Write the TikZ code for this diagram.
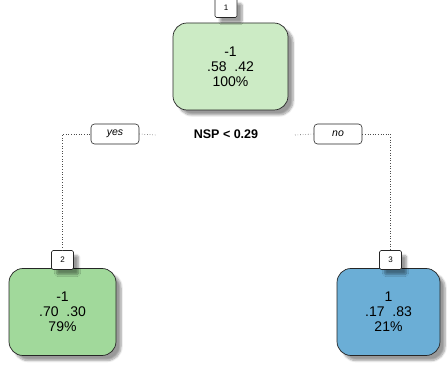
\documentclass[tikz,border=0pt]{standalone}
\usepackage{fontspec}
\setmainfont{Liberation Sans}
\usetikzlibrary{shadows.blur}
\definecolor{rootc}{RGB}{204,235,197}
\definecolor{leftc}{RGB}{161,217,155}
\definecolor{rightc}{RGB}{107,174,214}
\tikzset{
  shad/.style={blur shadow={shadow xshift=5pt, shadow yshift=-5pt, shadow blur steps=8, shadow opacity=40}},
  treenode/.style={draw=black!85, line width=0.7pt, rounded corners=14pt, inner sep=0pt,
    minimum width=112pt, minimum height=87pt, align=center, shad,
    font=\fontsize{14}{15}\selectfont},
  numlab/.style={draw=black!85, line width=0.6pt, fill=white, rounded corners=1.5pt, inner sep=0pt,
    minimum width=22pt, minimum height=19pt, shad, font=\fontsize{8}{8}\selectfont},
  splitlab/.style={draw=black!85, line width=0.6pt, fill=white, rounded corners=3.5pt, inner sep=0pt,
    minimum width=48pt, minimum height=20pt, font=\fontsize{10.5}{11}\selectfont\itshape},
  conn/.style={dotted, line width=0.6pt, draw=black!70}
}
\begin{document}
\begin{tikzpicture}[x=1pt, y=-1pt]
\useasboundingbox (0,0) rectangle (448,377);
% split labels
\node[splitlab] (yes) at (115,134) {yes};
\node[splitlab] (no) at (338,134) {no};
\node[font=\fontsize{12.5}{13}\selectfont\bfseries] (split) at (226,134) {NSP < 0.29};
\coordinate (yesend) at (156,135);
\coordinate (noend) at (295,135);
% nodes
\node[treenode, fill=rootc, minimum width=115pt] (root) at (230.5,66.5) {-1\\.58\ \ .42\\100\%};
\node[treenode, fill=leftc, minimum width=107pt] (left) at (62.5,312) {-1\\.70\ \ .30\\79\%};
\node[treenode, fill=rightc, minimum width=103pt] (right) at (388.5,312) {1\\.17\ \ .83\\21\%};
\node[numlab] (lab1) at (226,8) {1};
\node[numlab] (lab2) at (62.5,260) {2};
\node[numlab] (lab3) at (390.5,260) {3};
% connectors
\draw[conn] (lab2.north) |- (yes.west);
\draw[conn] (yes.east) -- (yesend);
\draw[conn] (noend) -- (no.west);
\draw[conn] (no.east) -| (lab3.north);
\end{tikzpicture}
\end{document}
